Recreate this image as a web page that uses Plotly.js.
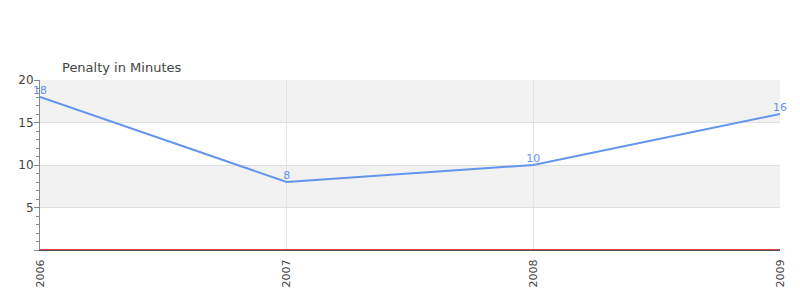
<!DOCTYPE html>
<html><head><meta charset="utf-8">
<script src="https://cdn.plot.ly/plotly-3.0.1.min.js"></script>
<style>body{margin:0;padding:0;background:#fff}#chart{width:800px;height:300px}</style>
</head><body><div id="chart"></div>
<script>
const years = ['2006', '2007', '2008', '2009'];
const penaltyMinutes = [18, 8, 10, 16];
const yTicks = [0, 5, 10, 15, 20];
const yTickText = ['', '5', '10', '15', '20'];
const bandPairs = [[5, 10], [15, 20]];
const baseline = 0;

const shapes = bandPairs.map(b => ({
  type: 'rect', xref: 'paper', yref: 'y', x0: 0, x1: 1, y0: b[0], y1: b[1],
  fillcolor: '#f2f2f2', line: {width: 0}, layer: 'below'
}));
shapes.push({type: 'line', xref: 'paper', yref: 'y', x0: 0, x1: 1, y0: baseline, y1: baseline,
  line: {color: '#d40000', width: 1.5}, layer: 'above'});

const trace = {
  x: years, y: penaltyMinutes, type: 'scatter', mode: 'lines+text',
  text: penaltyMinutes.map(String), textposition: 'top center',
  textfont: {color: '#6495ED', size: 11, family: 'DejaVu Sans'},
  line: {color: '#6495ED', width: 2}, cliponaxis: false, hoverinfo: 'none'
};

const layout = {
  width: 800, height: 300,
  margin: {l: 40, r: 20, t: 80, b: 50},
  paper_bgcolor: '#fff', plot_bgcolor: '#fff',
  font: {family: 'DejaVu Sans', color: '#444', size: 11},
  title: {text: 'Penalty in Minutes', x: 62/800, xanchor: 'left', y: 1 - 67/300, yanchor: 'middle',
          font: {size: 13, color: '#444', family: 'DejaVu Sans'}},
  showlegend: false,
  shapes: shapes,
  xaxis: {type: 'category', range: [0, years.length - 1], tickangle: -90,
          showgrid: true, gridcolor: '#e4e4e4', ticks: '', showline: true, linecolor: '#555', linewidth: 1,
          zeroline: false, ticklabelstandoff: 4, tickfont: {size: 11, color: '#444'}},
  yaxis: {range: [0, 20], tickvals: yTicks, ticktext: yTickText, ticks: 'outside', ticklen: 5, tickcolor: '#888',
          showline: true, linecolor: '#888', linewidth: 1,
          showgrid: true, gridcolor: '#e0e0e0',
          zeroline: false, ticklabelstandoff: -2,
          minor: {dtick: 1, ticks: 'outside', ticklen: 3, tickcolor: '#888', showgrid: false},
          tickfont: {size: 12, color: '#444'}}
};

Plotly.newPlot('chart', [trace], layout, {staticPlot: true});
</script></body></html>
